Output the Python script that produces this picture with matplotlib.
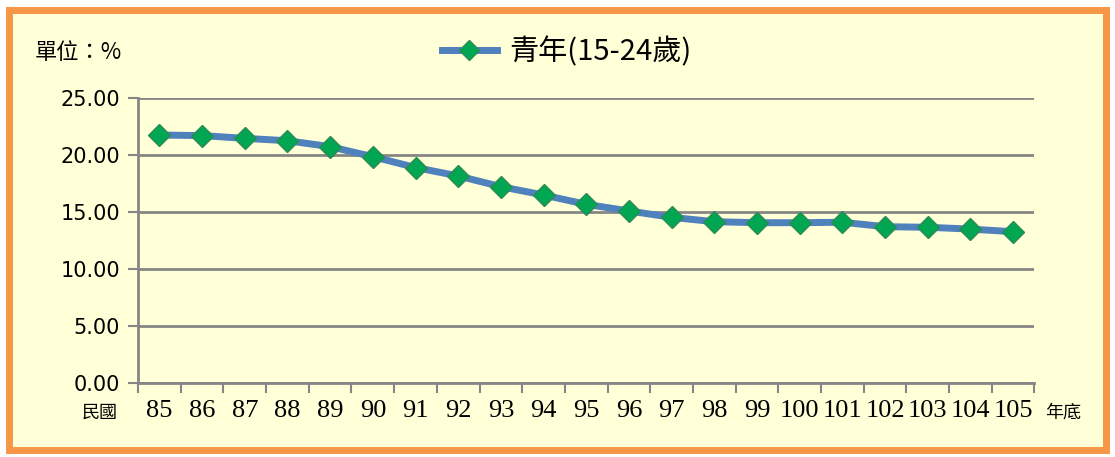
import matplotlib.pyplot as plt
from matplotlib.patches import Rectangle
from matplotlib.lines import Line2D

plt.rcParams['font.family'] = ['Noto Sans CJK TC', 'DejaVu Sans']

years = ['85', '86', '87', '88', '89', '90', '91', '92', '93', '94', '95',
         '96', '97', '98', '99', '100', '101', '102', '103', '104', '105']
youth = [21.75, 21.70, 21.46, 21.25, 20.73, 19.85, 18.90, 18.16, 17.22, 16.49,
         15.67, 15.09, 14.53, 14.15, 14.06, 14.06, 14.10, 13.71, 13.66, 13.50, 13.27]
yticks = [0, 5, 10, 15, 20, 25]
series_name = '青年(15-24歲)'

line_color = '#4F81BD'
marker_color = '#00A651'
grid_color = '#868686'

fig = plt.figure(figsize=(11.15, 4.57), dpi=100)
fig.patch.set_facecolor('white')

# chart frame: orange border, cream fill
fig.patches.append(Rectangle((0.008, 0.016), 0.984, 0.962, transform=fig.transFigure,
                             facecolor='#FFFFD8', edgecolor='#F79646', linewidth=5,
                             zorder=-1))

ax = fig.add_axes([0.1238, 0.1619, 0.804, 0.6237])
ax.set_facecolor('none')
ax.set_zorder(2)

x = list(range(len(years)))
ax.plot(x, youth, color=line_color, linewidth=5, marker='D', markersize=11,
        markerfacecolor=marker_color, markeredgecolor='#2E8B57', markeredgewidth=1,
        zorder=3)

ax.set_xlim(-0.5, len(years) - 0.5)
ax.set_ylim(0, 25)
ax.set_yticks(yticks)
ax.set_yticklabels([f'{v:.2f}' for v in yticks], fontsize=15, family='DejaVu Sans')
ax.set_xticks(x)
ax.set_xticklabels(years, fontsize=19, family='Liberation Serif')
ax.set_xticks([i - 0.5 for i in range(len(years) + 1)], minor=True)
ax.tick_params(axis='x', which='major', length=0, pad=12)
ax.tick_params(axis='x', which='minor', length=7, width=1.5, color=grid_color)
ax.tick_params(axis='y', length=7, width=1.5, color=grid_color, pad=6)

ax.grid(axis='y', color=grid_color, linewidth=2)
ax.set_axisbelow(True)
for side in ['top', 'right']:
    ax.spines[side].set_visible(False)
for side in ['left', 'bottom']:
    ax.spines[side].set_color(grid_color)
    ax.spines[side].set_linewidth(2)

handle = Line2D([], [], color=line_color, linewidth=5, marker='D', markersize=10,
                markerfacecolor=marker_color, markeredgecolor='#2E8B57')
fig.legend([handle], [series_name], loc='center', bbox_to_anchor=(0.508, 0.886),
           frameon=False, fontsize=21, handlelength=1.9, handletextpad=0.4)

fig.text(0.031, 0.886, '單位：%', fontsize=16, va='center', ha='left')
fig.text(0.073, 0.097, '民國', fontsize=13, va='center', ha='left')
fig.text(0.937, 0.097, '年底', fontsize=13, va='center', ha='left')

fig.savefig('out.png', dpi=100, facecolor=fig.get_facecolor())
